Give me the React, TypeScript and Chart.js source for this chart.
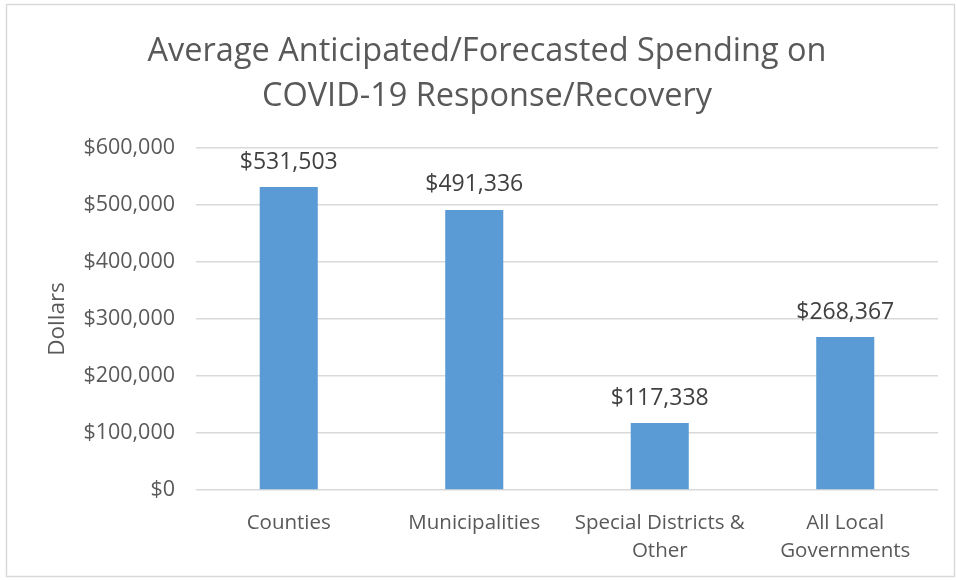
import React, { useEffect, useRef } from "react";
import { Chart, registerables } from "chart.js";

Chart.register(...registerables);

const categories: (string | string[])[] = [
  "Counties",
  "Municipalities",
  ["Special Districts &", "Other"],
  ["All Local", "Governments"],
];
const spending: number[] = [531503, 491336, 117338, 268367];
const yTicks: number[] = [0, 100000, 200000, 300000, 400000, 500000, 600000];
const titleLines: string[] = [
  "Average Anticipated/Forecasted Spending on",
  "COVID-19 Response/Recovery",
];

const FONT = "'Open Sans', Lato, sans-serif";
const fmt = (v: number) => "$" + v.toLocaleString("en-US");

const framePlugin = {
  id: "frame",
  beforeDraw(chart: any) {
    const ctx = chart.ctx;
    ctx.save();
    ctx.fillStyle = "#ffffff";
    ctx.fillRect(0, 0, chart.width, chart.height);
    ctx.strokeStyle = "#d9d9d9";
    ctx.lineWidth = 1.5;
    ctx.strokeRect(6.5, 4.5, 948, 572);
    ctx.restore();
  },
};

const labelPlugin = {
  id: "barLabels",
  afterDatasetsDraw(chart: any) {
    const ctx = chart.ctx;
    const meta = chart.getDatasetMeta(0);
    ctx.save();
    ctx.font = `23px ${FONT}`;
    ctx.fillStyle = "#404040";
    ctx.textAlign = "center";
    ctx.textBaseline = "middle";
    meta.data.forEach((bar: any, i: number) => {
      ctx.fillText(fmt(spending[i]), bar.x, bar.y - 25);
    });
    ctx.restore();
  },
};

export default function App() {
  const ref = useRef<HTMLCanvasElement>(null);
  useEffect(() => {
    if (!ref.current) return;
    const chart = new Chart(ref.current, {
      type: "bar",
      data: {
        labels: categories,
        datasets: [
          {
            data: spending,
            backgroundColor: "#5b9bd5",
            categoryPercentage: 1,
            barPercentage: 0.313,
          },
        ],
      },
      plugins: [framePlugin, labelPlugin],
      options: {
        animation: false,
        responsive: false,
        layout: { padding: { left: 36, right: 18, top: 0, bottom: 0 } },
        plugins: {
          legend: { display: false },
          tooltip: { enabled: false },
          title: {
            display: true,
            text: titleLines,
            color: "#595959",
            font: { family: FONT, size: 32.5, weight: "normal", lineHeight: 45 / 32.5 },
            padding: { top: 29, bottom: 29 },
          },
        },
        scales: {
          x: {
            grid: { display: false },
            border: { display: false },
            ticks: {
              color: "#595959",
              font: { family: FONT, size: 20.5, lineHeight: 28 / 20.5 },
              padding: 11,
              maxRotation: 0,
              autoSkip: false,
            },
            afterFit(scale: any) {
              scale.height = 90;
            },
          },
          y: {
            min: 0,
            max: 600000,
            afterBuildTicks(scale: any) {
              scale.ticks = yTicks.map((v) => ({ value: v }));
            },
            grid: { color: "#d9d9d9", lineWidth: 1.5, drawTicks: false },
            border: { display: false },
            ticks: {
              color: "#595959",
              font: { family: FONT, size: 21.5 },
              padding: 21,
              callback: (v: any) => fmt(Number(v)),
            },
            title: {
              display: true,
              text: "Dollars",
              color: "#595959",
              font: { family: FONT, size: 22.5 },
              padding: { top: 8, bottom: 0 },
            },
            afterFit(scale: any) {
              scale.width = 160;
            },
          },
        },
      },
    });
    return () => chart.destroy();
  }, []);
  return (
    <div style={{ position: "absolute", left: 0, top: 0, width: 956, height: 580 }}>
      <canvas ref={ref} width={956} height={580} style={{ display: "block" }} />
    </div>
  );
}
